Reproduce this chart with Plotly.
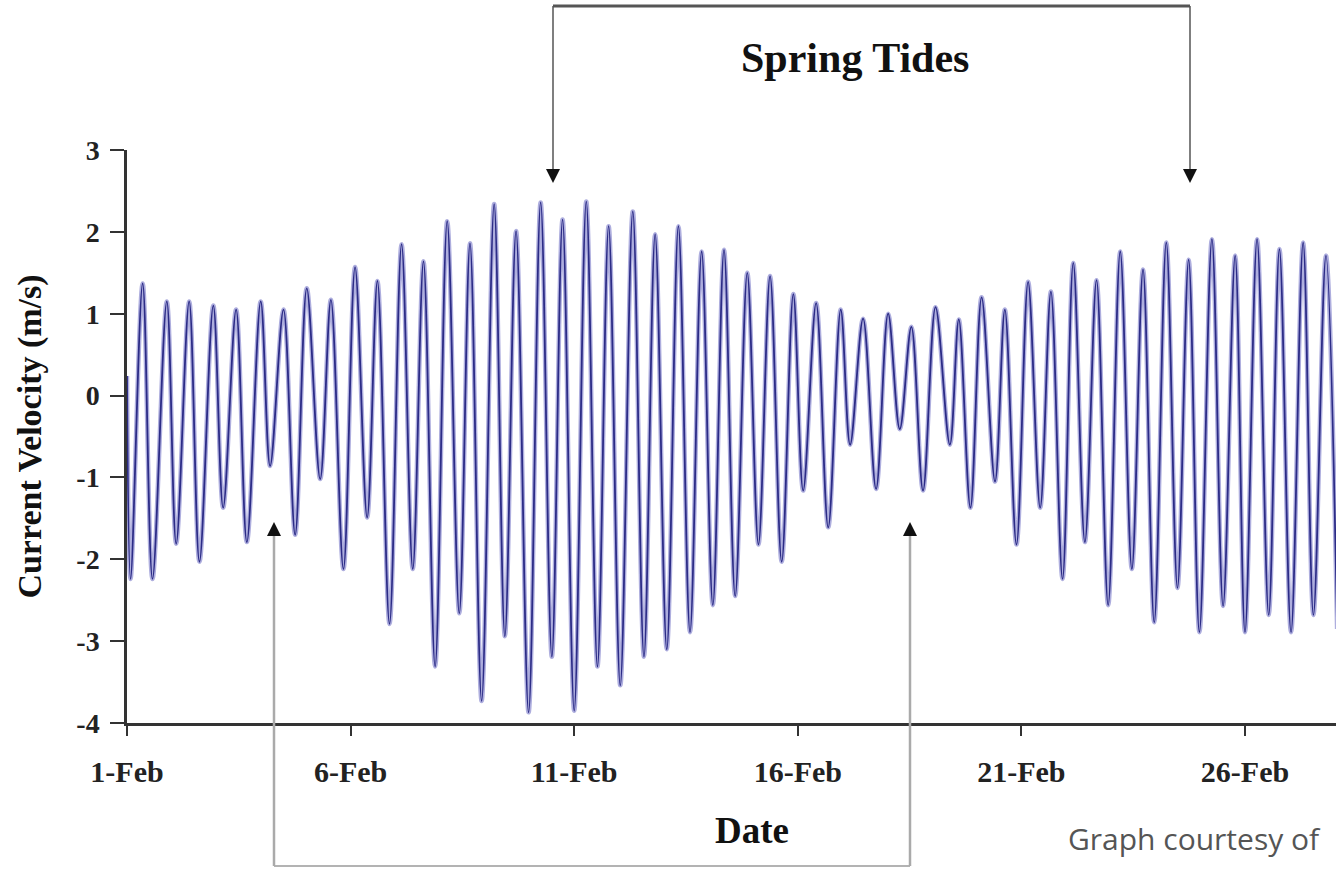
import plotly.graph_objects as go

# ---- data: times (day of February) of successive current extrema and their velocities (m/s)
day = [1.00, 1.08, 1.35, 1.57, 1.89, 2.10, 2.39, 2.62, 2.93, 3.15, 3.44, 3.68, 3.99, 4.20,
       4.50, 4.76, 5.02, 5.32, 5.56, 5.84, 6.10, 6.37, 6.60, 6.87, 7.14, 7.39, 7.63, 7.89,
       8.16, 8.43, 8.67, 8.93, 9.21, 9.45, 9.70, 9.98, 10.25, 10.50, 10.74, 11.00, 11.27,
       11.52, 11.77, 12.03, 12.31, 12.56, 12.81, 13.07, 13.33, 13.59, 13.85, 14.10, 14.35,
       14.60, 14.87, 15.12, 15.38, 15.64, 15.90, 16.12, 16.41, 16.68, 16.96, 17.17, 17.46,
       17.75, 18.02, 18.28, 18.54, 18.80, 19.08, 19.40, 19.60, 19.86, 20.11, 20.41, 20.63,
       20.89, 21.15, 21.42, 21.66, 21.92, 22.16, 22.42, 22.68, 22.94, 23.21, 23.47, 23.72,
       23.97, 24.24, 24.49, 24.74, 24.98, 25.26, 25.51, 25.78, 26.00, 26.27, 26.53, 26.77,
       27.03, 27.30, 27.53, 27.81, 28.06]
velocity = [0.24, -2.24, 1.37, -2.24, 1.15, -1.81, 1.15, -2.03, 1.10, -1.37, 1.05, -1.79, 1.15, -0.86,
            1.05, -1.70, 1.31, -1.02, 1.17, -2.12, 1.57, -1.49, 1.40, -2.79, 1.85, -2.12, 1.64, -3.31,
            2.13, -2.66, 1.86, -3.73, 2.34, -2.94, 2.01, -3.87, 2.36, -3.19, 2.15, -3.85, 2.37,
            -3.31, 2.07, -3.54, 2.25, -3.19, 1.97, -3.10, 2.07, -2.89, 1.76, -2.56, 1.78,
            -2.45, 1.50, -1.82, 1.46, -2.03, 1.24, -1.16, 1.13, -1.61, 1.05, -0.60, 0.94,
            -1.14, 1.00, -0.41, 0.84, -1.16, 1.08, -0.60, 0.93, -1.37, 1.20, -1.05, 1.05,
            -1.82, 1.39, -1.37, 1.27, -2.24, 1.62, -1.79, 1.41, -2.56, 1.76, -2.12, 1.54,
            -2.77, 1.87, -2.35, 1.66, -2.89, 1.91, -2.57, 1.71, -2.89, 1.91, -2.68, 1.79,
            -2.89, 1.87, -2.68, 1.71, -2.85]

tick_days = [1, 6, 11, 16, 21, 26]
tick_labels = ["1-Feb", "6-Feb", "11-Feb", "16-Feb", "21-Feb", "26-Feb"]
y_ticks = [-4, -3, -2, -1, 0, 1, 2, 3]

# ---- layout geometry (screen pixels; page body margin removed in post_script)
W, H = 1336, 869
L, R, T, B = 127, 0, 150, 869 - 723
PW, PH = W - L - R, H - T - B

def px(xs):
    return (xs - L) / PW

def py(ys):
    return (H - B - ys) / PH

SERIF = "Liberation Serif"

fig = go.Figure()
# soft halo + dark core of the current-velocity curve
fig.add_trace(go.Scatter(
    x=day, y=velocity, mode="lines",
    line=dict(color="#aeaede", width=4.5, shape="spline", smoothing=1.0),
    hoverinfo="skip",
))
fig.add_trace(go.Scatter(
    x=day, y=velocity, mode="lines",
    line=dict(color="#2c2c86", width=1.8, shape="spline", smoothing=1.0),
    hoverinfo="skip",
))

shapes = []
# Spring tides bracket (top)
shapes.append(dict(type="line", xref="paper", yref="paper", x0=px(553), x1=px(1190), y0=py(6), y1=py(6),
                   line=dict(color="#555555", width=3)))
for xa in (553, 1190):
    shapes.append(dict(type="line", xref="paper", yref="paper", x0=px(xa), x1=px(xa), y0=py(6), y1=py(172),
                       line=dict(color="#555555", width=1.5)))
    shapes.append(dict(type="path", xref="paper", yref="paper",
                       path=f"M {px(xa-7)},{py(169)} L {px(xa+7)},{py(169)} L {px(xa)},{py(183)} Z",
                       fillcolor="#111111", line=dict(color="#111111", width=0)))
# Neap tides bracket (bottom)
shapes.append(dict(type="line", xref="paper", yref="paper", x0=px(274), x1=px(910), y0=py(866), y1=py(866),
                   line=dict(color="#9a9a9a", width=1.5)))
for xa in (274, 910):
    shapes.append(dict(type="line", xref="paper", yref="paper", x0=px(xa), x1=px(xa), y0=py(866), y1=py(534),
                       line=dict(color="#aaaaaa", width=2.5)))
    shapes.append(dict(type="path", xref="paper", yref="paper",
                       path=f"M {px(xa-7)},{py(536)} L {px(xa+7)},{py(536)} L {px(xa)},{py(522)} Z",
                       fillcolor="#111111", line=dict(color="#111111", width=0)))

annotations = [
    dict(text="<b>Spring Tides</b>", xref="paper", yref="paper", x=px(855), y=py(58),
         xanchor="center", yanchor="middle", showarrow=False,
         font=dict(family=SERIF, size=42, color="#111111")),
    dict(text="<b>Date</b>", xref="paper", yref="paper", x=px(752), y=py(830),
         xanchor="center", yanchor="middle", showarrow=False,
         font=dict(family=SERIF, size=37, color="#111111")),
    dict(text="Graph courtesy of", xref="paper", yref="paper", x=px(1066), y=py(838),
         xanchor="left", yanchor="middle", showarrow=False,
         font=dict(family="Open Sans", size=30, color="#555555")),
]

fig.update_layout(
    width=W, height=H,
    margin=dict(l=L, r=R, t=T, b=B, pad=0),
    paper_bgcolor="white", plot_bgcolor="white",
    showlegend=False,
    shapes=shapes, annotations=annotations,
    xaxis=dict(range=[1, 1 + PW / 44.72], tickvals=tick_days, ticktext=tick_labels,
               showgrid=False, zeroline=False, showline=True, linecolor="#333333", linewidth=2.5,
               ticks="outside", ticklen=10, tickwidth=2, tickcolor="#333333",
               ticklabelstandoff=10,
               tickfont=dict(family=SERIF, size=30, color="#222222", weight="bold")),
    yaxis=dict(range=[-4, 3], tickvals=y_ticks, ticktext=[str(v) for v in y_ticks],
               showgrid=False, zeroline=False, showline=True, linecolor="#333333", linewidth=2.5,
               ticks="outside", ticklen=14, tickwidth=2, tickcolor="#333333",
               ticklabelstandoff=5,
               tickfont=dict(family=SERIF, size=28, color="#222222", weight="bold"),
               title=dict(text="<b>Current Velocity (m/s)</b>", standoff=25,
                          font=dict(family=SERIF, size=34, color="#111111"))),
)

fig.write_html("out.html", config={"displayModeBar": False},
               post_script="document.body.style.margin='0';")
